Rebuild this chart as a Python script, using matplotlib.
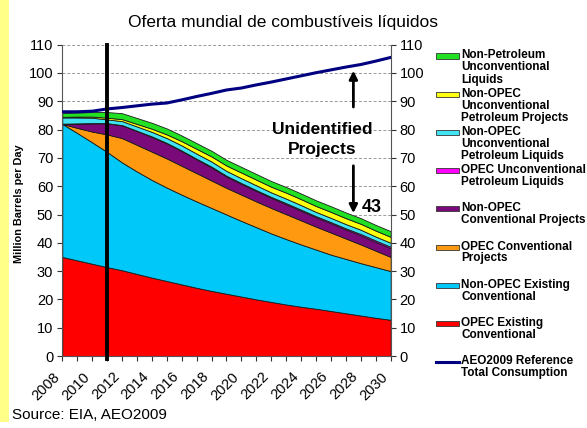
import matplotlib
matplotlib.use('Agg')
import matplotlib.pyplot as plt
from matplotlib.patches import Rectangle
from matplotlib.lines import Line2D
from matplotlib.transforms import ScaledTranslation

plt.rcParams['font.family'] = ['Liberation Sans', 'DejaVu Sans']

# data (million barrels per day)
years = list(range(2008, 2031))
opec_existing = [35.0, 33.8, 32.6, 31.4, 30.3, 29.0, 27.7, 26.5, 25.3, 24.1, 23.0, 22.0,
                 21.0, 20.0, 19.1, 18.2, 17.4, 16.7, 15.9, 15.1, 14.3, 13.5, 12.8]
nonopec_existing = [47.0, 45.0, 42.9, 40.7, 38.1, 36.2, 34.5, 33.0, 31.7, 30.5, 29.3, 28.0,
                    26.7, 25.5, 24.2, 23.1, 22.0, 20.9, 19.9, 19.2, 18.5, 17.9, 17.2]
opec_conv_proj = [0.0, 1.8, 3.8, 6.2, 8.6, 9.4, 10.0, 10.3, 10.2, 10.0, 9.7, 9.4,
                  9.3, 9.1, 9.0, 8.8, 8.5, 8.1, 7.8, 7.2, 6.6, 5.8, 5.0]
nonopec_conv_proj = [0.0, 1.5, 2.9, 3.9, 4.5, 4.9, 5.2, 5.3, 5.2, 4.9, 4.6, 4.0,
                     3.8, 3.7, 3.6, 3.5, 3.4, 3.3, 3.3, 3.2, 3.2, 3.1, 3.1]
opec_unconv = [0.1, 0.1, 0.1, 0.1, 0.1, 0.1, 0.2, 0.2, 0.2, 0.2, 0.3, 0.3,
               0.3, 0.3, 0.3, 0.4, 0.4, 0.4, 0.4, 0.4, 0.5, 0.5, 0.5]
nonopec_unconv_liq = [2.2, 2.1, 1.9, 1.3, 1.4, 1.5, 1.6, 1.7, 1.8, 1.8, 1.8, 1.7,
                      1.7, 1.7, 1.6, 1.6, 1.6, 1.5, 1.5, 1.5, 1.5, 1.4, 1.4]
nonopec_unconv_proj = [0.2, 0.3, 0.4, 0.6, 0.7, 0.9, 1.1, 1.3, 1.5, 1.7, 1.8, 1.9,
                       2.0, 2.0, 2.0, 2.1, 2.1, 2.1, 2.1, 2.1, 2.1, 2.1, 2.1]
nonpetro_unconv = [1.3, 1.4, 1.6, 2.0, 2.1, 2.1, 2.1, 2.1, 2.0, 2.0, 2.0, 2.0,
                   2.0, 2.0, 2.0, 2.0, 2.0, 2.0, 2.0, 2.0, 2.0, 2.0, 2.0]
consumption = [86.3, 86.3, 86.5, 87.3, 87.8, 88.4, 89.0, 89.4, 90.5, 91.7, 92.8, 94.0,
               94.7, 95.8, 96.8, 97.9, 99.0, 100.1, 101.1, 102.1, 103.0, 104.2, 105.5]

layers = [opec_existing, nonopec_existing, opec_conv_proj, nonopec_conv_proj,
          opec_unconv, nonopec_unconv_liq, nonopec_unconv_proj, nonpetro_unconv]
colors = ['#ff0000', '#00c8f8', '#ff9a10', '#7a0a7a', '#ff00ff', '#40e4f4', '#ffff10', '#22e022']
labels = ['OPEC Existing\nConventional', 'Non-OPEC Existing\nConventional',
          'OPEC Conventional\nProjects', 'Non-OPEC\nConventional Projects',
          'OPEC Unconventional\nPetroleum Liquids', 'Non-OPEC\nUnconventional\nPetroleum Liquids',
          'Non-OPEC\nUnconventional\nPetroleum Projects', 'Non-Petroleum\nUnconventional\nLiquids']
line_label = 'AEO2009 Reference\nTotal Consumption'
xlabels = [str(y) if y % 2 == 0 else '' for y in years]

W, H = 587, 428
fig = plt.figure(figsize=(W / 100, H / 100), dpi=100)


def fx(px):
    return px / W


def fy(py):
    return 1 - py / H


# pale yellow strip on the left edge
fig.add_artist(Rectangle((0, fy(422)), fx(9), 1 - fy(422), transform=fig.transFigure,
                         color='#ffff88', lw=0))

ax = fig.add_axes([fx(62.3), fy(356), fx(390.7 - 62.3), (356 - 44.7) / H])
ax.stackplot(years, *layers, colors=colors, edgecolor='#1a1a1a', linewidth=0.6, zorder=2)
ax.plot(years, consumption, color='#000080', lw=2.2, zorder=3)

ax.set_xlim(2008, 2030)
ax.set_ylim(0, 110)
ax.set_yticks(range(0, 111, 10))
ax.set_xticks(years)
ax.set_xticklabels(xlabels, rotation=45, ha='right', va='center', rotation_mode='anchor',
                   fontsize=10.5)
ax.tick_params(axis='x', direction='out', length=3.5, width=0.8, color='#333333', pad=7)
ax.tick_params(axis='y', direction='out', length=3.5, width=0.8, color='#333333', labelsize=10.5,
               pad=3, right=True, labelright=True)
# nudge the rotated year labels left/down like the original
shift = ScaledTranslation(-0.05, -0.04, fig.dpi_scale_trans)
for tick in ax.xaxis.get_major_ticks():
    tick.label1.set_transform(tick.label1.get_transform() + shift)
ax.grid(axis='y', linestyle=(0, (3, 2)), color='#999999', lw=0.7, zorder=0)
ax.set_axisbelow(True)
ax.spines['top'].set_visible(False)
for s in ['left', 'right', 'bottom']:
    ax.spines[s].set_color('#555555')
    ax.spines[s].set_linewidth(0.8)

ax.set_ylabel('Million Barrels per Day', fontsize=7.8, fontweight='bold')
ax.yaxis.set_label_coords(-0.117, 0.488)

# "today" marker
ax.axvline(2011, ymin=-0.01, ymax=1, color='black', lw=2.8, clip_on=False, zorder=4)

# annotation for unidentified projects
ax.text(2025.4, 76.4, 'Unidentified\nProjects', ha='center', va='center', fontsize=12.5,
        fontweight='bold', linespacing=1.45, zorder=5)
ax.annotate('', xy=(2027.5, 101.8), xytext=(2027.5, 87.0),
            arrowprops=dict(arrowstyle='-|>', color='black', lw=2, mutation_scale=12))
ax.annotate('', xy=(2027.5, 49.5), xytext=(2027.5, 68.2),
            arrowprops=dict(arrowstyle='-|>', color='black', lw=2, mutation_scale=12))
ax.text(2028.05, 52.3, '43', ha='left', va='center', fontsize=13, fontweight='bold', zorder=5)

fig.text(fx(283), fy(22), 'Oferta mundial de combustíveis líquidos', ha='center', va='center',
         fontsize=12.5)
fig.text(fx(12), fy(415), 'Source: EIA, AEO2009', ha='left', va='center', fontsize=11)

# legend, drawn top to bottom
entries = list(zip(labels, colors))[::-1]
for i, (lab, col) in enumerate(entries):
    py = 56 + i * 38.2
    fig.add_artist(Rectangle((fx(436), fy(py + 2.5)), fx(23), 5 / H, transform=fig.transFigure,
                             facecolor=col, edgecolor='#333333', lw=0.6))
    fig.text(fx(461), fy(py - 6.5), lab, ha='left', va='top', fontsize=8.5, fontweight='bold',
             linespacing=1.0)
py = 56 + 8 * 38.2
fig.add_artist(Line2D([fx(436), fx(459)], [fy(py), fy(py)], transform=fig.transFigure,
                      color='#000080', lw=2.2))
fig.text(fx(461), fy(py - 6.5), line_label, ha='left', va='top', fontsize=8.5, fontweight='bold',
         linespacing=1.0)

fig.savefig('out.png', dpi=100)
